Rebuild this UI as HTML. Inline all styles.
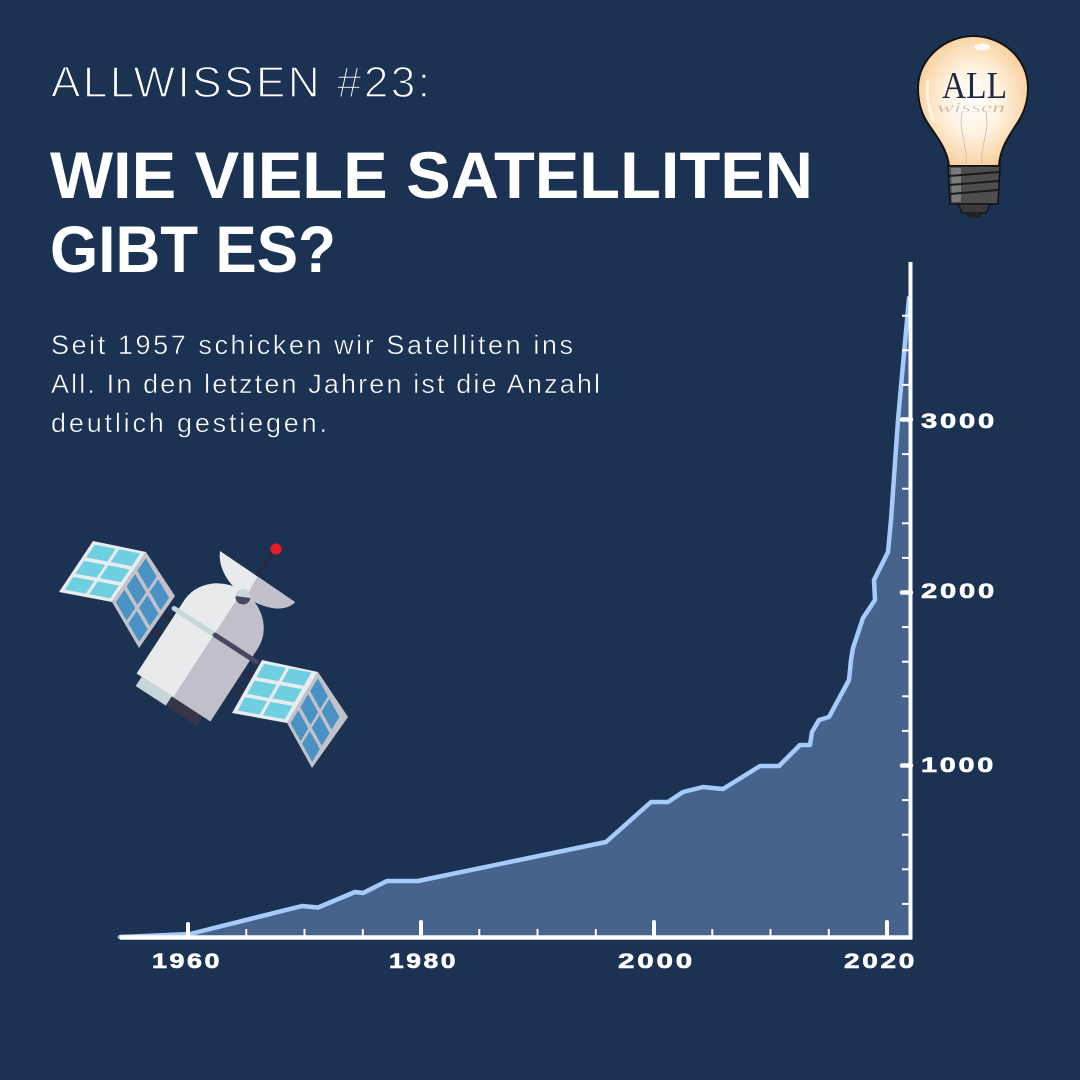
<!DOCTYPE html>
<html>
<head>
<meta charset="utf-8">
<style>
html,body{margin:0;padding:0;background:#1b3253;}
svg{display:block;}
</style>
</head>
<body>
<svg width="1080" height="1080" viewBox="0 0 1080 1080" xmlns="http://www.w3.org/2000/svg">
<defs>
<radialGradient id="glow" cx="0.5" cy="0.5" r="0.62">
<stop offset="0" stop-color="#ffffff"/>
<stop offset="0.4" stop-color="#fff3e2"/>
<stop offset="1" stop-color="#f7c487"/>
</radialGradient>
</defs>
<rect width="1080" height="1080" fill="#1b3253"/>

<!-- Title texts -->
<text x="51" y="97" font-family="Liberation Sans, sans-serif" font-size="44" fill="#ffffff" stroke="#1b3253" stroke-width="1.4" textLength="379" lengthAdjust="spacing">ALLWISSEN #23:</text>
<text x="50" y="198" font-family="Liberation Sans, sans-serif" font-weight="bold" font-size="66" fill="#ffffff" textLength="763" lengthAdjust="spacingAndGlyphs">WIE VIELE SATELLITEN</text>
<text x="50" y="272" font-family="Liberation Sans, sans-serif" font-weight="bold" font-size="66" fill="#ffffff" textLength="286" lengthAdjust="spacingAndGlyphs">GIBT ES?</text>

<g font-family="Liberation Sans, sans-serif" font-size="27" fill="#ffffff" stroke="#1b3253" stroke-width="0.5">
<text x="51" y="354" textLength="522" lengthAdjust="spacing">Seit 1957 schicken wir Satelliten ins</text>
<text x="51" y="393" textLength="549" lengthAdjust="spacing">All. In den letzten Jahren ist die Anzahl</text>
<text x="51" y="432" textLength="276" lengthAdjust="spacing">deutlich gestiegen.</text>
</g>

<!-- Light bulb -->
<g>
<path d="M949,166 C947,148 936,136 927,122 C920,111 918,100 918,88 C918,58 946,36 973,36 C1002,36 1028,58 1028,88 C1028,100 1025,111 1018,122 C1009,136 1000,148 999,166 Z" fill="url(#glow)" stroke="#141414" stroke-width="2"/>
<ellipse cx="982" cy="47" rx="8" ry="3.5" fill="#ffffff" opacity="0.85"/>
<path d="M928,80 C926,95 929,110 934,122" stroke="#ffffff" stroke-width="3" fill="none" opacity="0.6"/>
<path d="M962,112 C958,130 968,145 966,166 M986,112 C990,130 980,145 982,166" stroke="#b5b5b5" stroke-width="0.7" fill="none"/>
<text x="974.5" y="98" text-anchor="middle" font-family="Liberation Serif, serif" font-size="38" fill="#1d2a40" textLength="65" lengthAdjust="spacingAndGlyphs">ALL</text>
<text x="971" y="112" text-anchor="middle" font-family="Liberation Serif, serif" font-style="italic" font-size="14" fill="#b4b0aa" stroke="url(#glow)" stroke-width="0.4" textLength="68" lengthAdjust="spacingAndGlyphs">wissen</text>
<path d="M948,166 L1000,166 L998,204 L950,204 Z" fill="#4e4e50" stroke="#111" stroke-width="1.5"/>
<path d="M951,168 L961,168 L961,202 L952,202 Z" fill="#9a9a9a" opacity="0.6"/>
<path d="M949,176 L999,172 M949,185 L999,181 M950,194 L998,190" stroke="#1a1a1a" stroke-width="2"/>
<path d="M958,204 L990,204 L986,213 L962,213 Z" fill="#3a3a3c" stroke="#111" stroke-width="1.2"/>
<ellipse cx="974" cy="215" rx="8" ry="3" fill="#222"/>
</g>

<!-- Satellite -->
<g>
<g transform="translate(173.5,697.5) rotate(33)" stroke="#2a2940" stroke-width="5">
<line x1="-62" y1="-64" x2="-40" y2="-64"/>
<line x1="-60" y1="-45" x2="-40" y2="-45"/>
<line x1="40" y1="-60" x2="62" y2="-60"/>
<line x1="40" y1="-43" x2="62" y2="-43"/>
</g>
<!-- upper-left panel -->
<polygon points="93,541 146,552 112,602 59,592" fill="#e8ecee"/>
<polygon points="146,552 175,596 139,648 112,602" fill="#c3c2cb"/>
<g transform="matrix(53,10,34,-51,59,592)" fill="#6dcfe0">
<rect x="0.07" y="0.06" width="0.40" height="0.25"/>
<rect x="0.53" y="0.06" width="0.40" height="0.25"/>
<rect x="0.07" y="0.375" width="0.40" height="0.25"/>
<rect x="0.53" y="0.375" width="0.40" height="0.25"/>
<rect x="0.07" y="0.69" width="0.40" height="0.25"/>
<rect x="0.53" y="0.69" width="0.40" height="0.25"/>
</g>
<g transform="matrix(27,46,34,-50,112,602)" fill="#4a92c3">
<rect x="0.07" y="0.06" width="0.40" height="0.25"/>
<rect x="0.53" y="0.06" width="0.40" height="0.25"/>
<rect x="0.07" y="0.375" width="0.40" height="0.25"/>
<rect x="0.53" y="0.375" width="0.40" height="0.25"/>
<rect x="0.07" y="0.69" width="0.40" height="0.25"/>
<rect x="0.53" y="0.69" width="0.40" height="0.25"/>
</g>
<!-- lower-right panel -->
<polygon points="262,660 318,672 287,723 232,713" fill="#e8ecee"/>
<polygon points="318,672 348,717 312,768 287,723" fill="#c3c2cb"/>
<g transform="matrix(55,10,30,-53,232,713)" fill="#6dcfe0">
<rect x="0.07" y="0.06" width="0.40" height="0.25"/>
<rect x="0.53" y="0.06" width="0.40" height="0.25"/>
<rect x="0.07" y="0.375" width="0.40" height="0.25"/>
<rect x="0.53" y="0.375" width="0.40" height="0.25"/>
<rect x="0.07" y="0.69" width="0.40" height="0.25"/>
<rect x="0.53" y="0.69" width="0.40" height="0.25"/>
</g>
<g transform="matrix(25,45,31,-51,287,723)" fill="#4a92c3">
<rect x="0.07" y="0.06" width="0.40" height="0.25"/>
<rect x="0.53" y="0.06" width="0.40" height="0.25"/>
<rect x="0.07" y="0.375" width="0.40" height="0.25"/>
<rect x="0.53" y="0.375" width="0.40" height="0.25"/>
<rect x="0.07" y="0.69" width="0.40" height="0.25"/>
<rect x="0.53" y="0.69" width="0.40" height="0.25"/>
</g>
<!-- body -->
<g transform="translate(173.5,697.5) rotate(33)">
<path d="M-38,0 L-2,0 L-2,11 L-38,11 Z" fill="#c6d6d9"/>
<path d="M-2,0 L35,0 L35,11 L-2,11 Z" fill="#393548"/>
<path d="M-44,0 L-44,-87 A44,40 0 0 1 0,-127 L0,0 Z" fill="#e8eaeb"/>
<path d="M0,0 L0,-127 A44,40 0 0 1 44,-87 L44,0 Z" fill="#c1c0ca"/>
<line x1="-48" y1="-75" x2="1" y2="-75" stroke="#c6d6d9" stroke-width="5" stroke-linecap="round"/>
<line x1="1" y1="-75" x2="50" y2="-75" stroke="#4a4560" stroke-width="5" stroke-linecap="round"/>
</g>
<!-- dish -->
<path d="M220,551 C217,574 238,599 268,607 C282,611 292,606 295,602 Z" fill="#e8eaeb"/>
<path d="M257,577 L295,602 C292,606 282,611 268,607 C259,605 252,601 246,597 Z" fill="#c1c0ca"/>
<line x1="257" y1="576" x2="276" y2="549" stroke="#2a2940" stroke-width="4"/>
<circle cx="276" cy="549" r="5.5" fill="#ec1c24"/>
<circle cx="243" cy="597" r="7.5" fill="#4a4560"/>
<path d="M235.5,596 A7.5,7.5 0 0 1 250.5,598 Z" fill="#c6d6d9"/>
</g>

<!-- Chart area -->
<polygon fill="#46638b" points="120,937 190,934 302,906 318,907.5 355,892 363,893 387,881 418,881 606,842 651,802 668,802 683,792 703,787 723,789 760,766 779,766 800,745 810,745 812,732 819,720 829,717 849,680 851,660 853,648 863,618 875,600 874,580 888,552 891,520 898,420 909,298 910,937"/>
<polyline fill="none" stroke="#a6cbfb" stroke-width="4.5" stroke-linejoin="round" stroke-linecap="round" points="120,937 190,934 302,906 318,907.5 355,892 363,893 387,881 418,881 606,842 651,802 668,802 683,792 703,787 723,789 760,766 779,766 800,745 810,745 812,732 819,720 829,717 849,680 851,660 853,648 863,618 875,600 874,580 888,552 891,520 898,420 909,298"/>

<!-- Axes -->
<g stroke="#ffffff">
<line x1="120" y1="937.5" x2="912" y2="937.5" stroke-width="4.5"/>
<line x1="910.5" y1="262" x2="910.5" y2="939.5" stroke-width="4"/>
<g stroke-width="2">
<line x1="902" y1="903.9" x2="910" y2="903.9"/>
<line x1="902" y1="869.3" x2="910" y2="869.3"/>
<line x1="902" y1="834.7" x2="910" y2="834.7"/>
<line x1="902" y1="800.1" x2="910" y2="800.1"/>
<line x1="902" y1="730.9" x2="910" y2="730.9"/>
<line x1="902" y1="696.3" x2="910" y2="696.3"/>
<line x1="902" y1="661.7" x2="910" y2="661.7"/>
<line x1="902" y1="627.1" x2="910" y2="627.1"/>
<line x1="902" y1="557.9" x2="910" y2="557.9"/>
<line x1="902" y1="523.3" x2="910" y2="523.3"/>
<line x1="902" y1="488.7" x2="910" y2="488.7"/>
<line x1="902" y1="454.1" x2="910" y2="454.1"/>
<line x1="902" y1="384.9" x2="910" y2="384.9"/>
<line x1="902" y1="350.3" x2="910" y2="350.3"/>
<line x1="902" y1="315.7" x2="910" y2="315.7"/>
</g>
<g stroke-width="4.5" stroke-linecap="round">
<line x1="902" y1="765.5" x2="911" y2="765.5"/>
<line x1="902" y1="592.5" x2="911" y2="592.5"/>
<line x1="902" y1="419.5" x2="911" y2="419.5"/>
</g>
<g stroke-width="2">
<line x1="246.3" y1="929" x2="246.3" y2="937"/>
<line x1="304.5" y1="929" x2="304.5" y2="937"/>
<line x1="362.8" y1="929" x2="362.8" y2="937"/>
<line x1="479.3" y1="929" x2="479.3" y2="937"/>
<line x1="537.5" y1="929" x2="537.5" y2="937"/>
<line x1="595.8" y1="929" x2="595.8" y2="937"/>
<line x1="712.3" y1="929" x2="712.3" y2="937"/>
<line x1="770.5" y1="929" x2="770.5" y2="937"/>
<line x1="828.8" y1="929" x2="828.8" y2="937"/>
</g>
<g stroke-width="4" stroke-linecap="round">
<line x1="188" y1="924" x2="188" y2="937"/>
<line x1="421" y1="922" x2="421" y2="937"/>
<line x1="654" y1="922" x2="654" y2="937"/>
<line x1="887" y1="922" x2="887" y2="937"/>
</g>
</g>

<!-- Axis labels -->
<g font-family="Liberation Sans, sans-serif" font-weight="bold" font-size="21" fill="#ffffff" stroke="#ffffff" stroke-width="0.6" letter-spacing="2">
<text x="921" y="428" textLength="76" lengthAdjust="spacingAndGlyphs">3000</text>
<text x="921" y="598" textLength="76" lengthAdjust="spacingAndGlyphs">2000</text>
<text x="921" y="772" textLength="75" lengthAdjust="spacingAndGlyphs">1000</text>
<text x="152" y="968" textLength="70" lengthAdjust="spacingAndGlyphs">1960</text>
<text x="389" y="968" textLength="69" lengthAdjust="spacingAndGlyphs">1980</text>
<text x="618" y="968" textLength="77" lengthAdjust="spacingAndGlyphs">2000</text>
<text x="844" y="968" textLength="73" lengthAdjust="spacingAndGlyphs">2020</text>
</g>
</svg>
</body>
</html>
